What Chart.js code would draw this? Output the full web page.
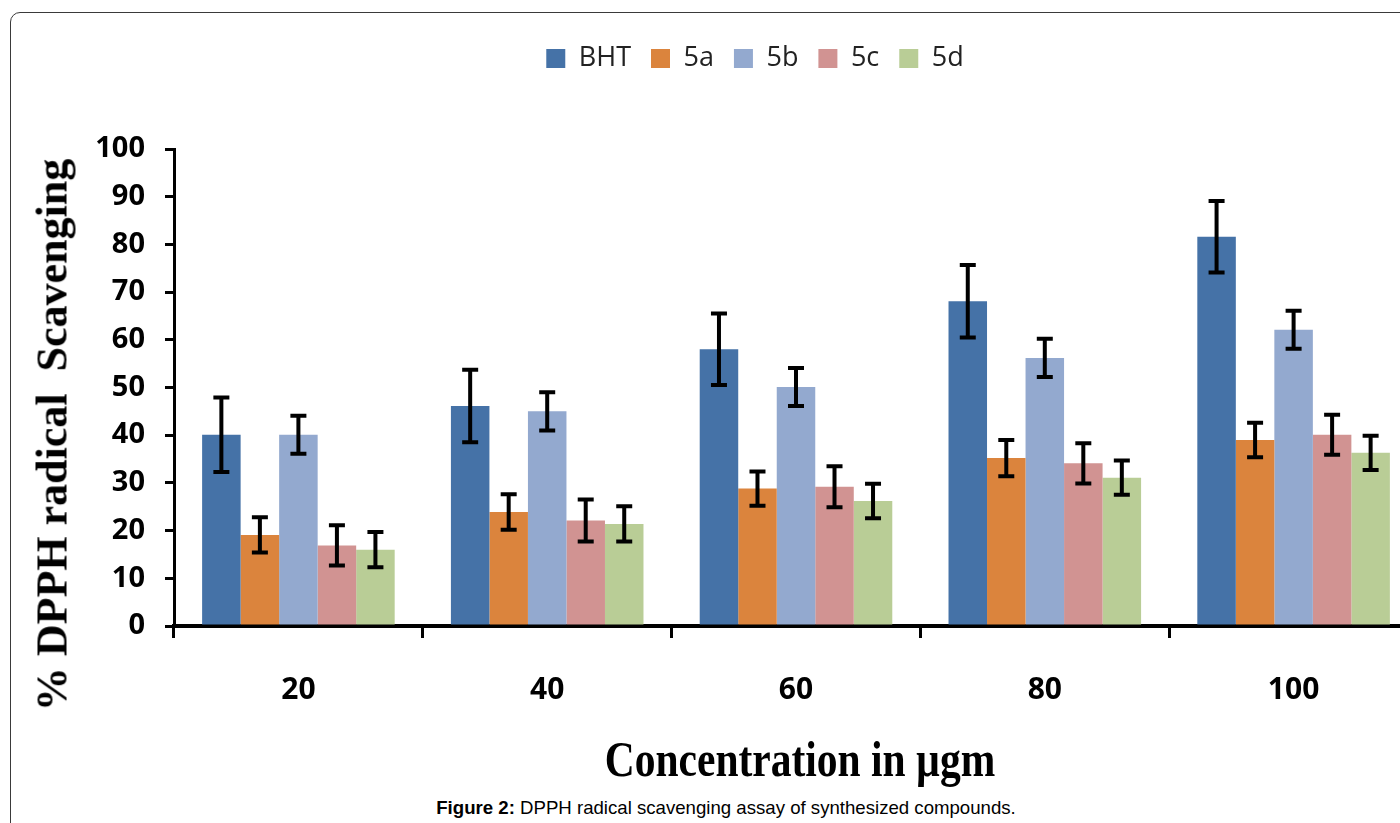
<!DOCTYPE html>
<html>
<head>
<meta charset="utf-8">
<title>DPPH radical scavenging</title>
<script src="https://cdn.jsdelivr.net/npm/chart.js@4.4.1/dist/chart.umd.min.js"></script>
<style>
    html, body { margin: 0; padding: 0; width: 1400px; height: 823px; overflow: hidden; background: #fff; }
    .frame { position: absolute; left: 10px; top: 12px; width: 1500px; height: 900px; border: 1px solid #3a3a3a; border-radius: 10px; }
    #chartBox { position: absolute; left: 0; top: 0; }
    .y-title { position: absolute; left: 52px; top: 435px; transform: translate(-50%, -50%) rotate(-90deg); white-space: pre; font: bold 44px "Liberation Serif", serif; color: #000; }
    .x-title { position: absolute; left: 800px; top: 759px; transform: translate(-50%, -50%) scaleX(0.83); white-space: nowrap; font: bold 50px "Liberation Serif", serif; color: #000; }
    .caption { position: absolute; left: 726px; top: 808px; transform: translate(-50%, -50%) scaleX(0.98); white-space: nowrap; font: 19px "Liberation Sans", Arial, sans-serif; color: #000; }
</style>
</head>
<body>
<div class="frame"></div>
<canvas id="chartBox" width="1430" height="742"></canvas>
<div class="y-title">% DPPH radical  Scavenging</div>
<div class="x-title">Concentration in µgm</div>
<div class="caption"><b>Figure 2:</b> DPPH radical scavenging assay of synthesized compounds.</div>

<script>
const concentrations = ['20', '40', '60', '80', '100'];
const compounds = ['BHT', '5a', '5b', '5c', '5d'];

const bhtValues = [40.1, 46.1, 58.0, 68.1, 81.6];
const a5Values = [19.1, 23.9, 28.8, 35.2, 39.0];
const b5Values = [40.1, 45.0, 50.1, 56.2, 62.1];
const c5Values = [16.9, 22.1, 29.2, 34.1, 40.1];
const d5Values = [16.0, 21.4, 26.2, 31.1, 36.3];

const bhtErrors = [7.8, 7.6, 7.5, 7.6, 7.5];
const a5Errors = [3.7, 3.7, 3.6, 3.8, 3.6];
const b5Errors = [4.0, 4.0, 4.0, 4.0, 4.0];
const c5Errors = [4.2, 4.4, 4.3, 4.2, 4.2];
const d5Errors = [3.7, 3.7, 3.6, 3.6, 3.6];

const yTicks = [0, 10, 20, 30, 40, 50, 60, 70, 80, 90, 100];

const colors = ['#4572a7', '#db843d', '#93a9cf', '#d19392', '#b9cd96'];

const seriesValues = [bhtValues, a5Values, b5Values, c5Values, d5Values];
const seriesErrors = [bhtErrors, a5Errors, b5Errors, c5Errors, d5Errors];

// draws the black I-shaped error bars on top of every bar
const errorBars = {
    id: 'errorBars',
    afterDatasetsDraw: function (chart) {
        const ctx = chart.ctx;
        const yScale = chart.scales.y;
        ctx.save();
        ctx.strokeStyle = '#000';
        ctx.lineWidth = 4;
        ctx.lineCap = 'butt';
        chart.data.datasets.forEach(function (dataset, i) {
            const meta = chart.getDatasetMeta(i);
            meta.data.forEach(function (bar, j) {
                const value = dataset.data[j];
                const err = dataset.errors[j];
                const top = yScale.getPixelForValue(value + err);
                const bottom = yScale.getPixelForValue(value - err);
                const half = 8;
                ctx.beginPath();
                ctx.moveTo(bar.x, top);
                ctx.lineTo(bar.x, bottom);
                ctx.moveTo(bar.x - half, top);
                ctx.lineTo(bar.x + half, top);
                ctx.moveTo(bar.x - half, bottom);
                ctx.lineTo(bar.x + half, bottom);
                ctx.stroke();
            });
        });
        ctx.restore();
    }
};

// pushes the plot down, leaving room under the legend
const legendGap = {
    id: 'legendGap',
    beforeInit: function (chart) {
        const fit = chart.legend.fit;
        chart.legend.fit = function () {
            fit.bind(chart.legend)();
            this.height += 67;
        };
    }
};

new Chart(document.getElementById('chartBox'), {
    type: 'bar',
    data: {
        labels: concentrations,
        datasets: compounds.map(function (name, i) {
            return {
                label: name,
                data: seriesValues[i],
                errors: seriesErrors[i],
                backgroundColor: colors[i],
                borderWidth: 0,
                barPercentage: 1,
                categoryPercentage: 0.774
            };
        })
    },
    options: {
        responsive: false,
        animation: false,
        layout: {
            padding: { left: 92, right: 12, top: 25, bottom: 0 }
        },
        plugins: {
            legend: {
                position: 'top',
                labels: {
                    boxWidth: 19,
                    boxHeight: 19,
                    padding: 20,
                    color: '#222',
                    font: { family: 'Open Sans', size: 27 }
                }
            },
            tooltip: { enabled: false }
        },
        scales: {
            x: {
                border: { display: true, color: '#000', width: 4 },
                grid: { display: true, drawOnChartArea: false, color: '#000', lineWidth: 3, tickLength: 12 },
                ticks: {
                    color: '#000',
                    padding: 34,
                    font: { family: 'Open Sans', size: 30, weight: 'bold' }
                }
            },
            y: {
                min: 0,
                max: 100,
                afterFit: function (scale) {
                    scale.width = 82;
                },
                afterBuildTicks: function (scale) {
                    scale.ticks = yTicks.map(function (v) { return { value: v }; });
                },
                border: { display: true, color: '#000', width: 3 },
                grid: { display: true, drawOnChartArea: false, color: '#000', lineWidth: 3, tickLength: 9 },
                ticks: {
                    color: '#000',
                    padding: 20,
                    font: { family: 'Open Sans', size: 29, weight: 'bold' }
                }
            }
        }
    },
    plugins: [errorBars, legendGap]
});
</script>
</body>
</html>
